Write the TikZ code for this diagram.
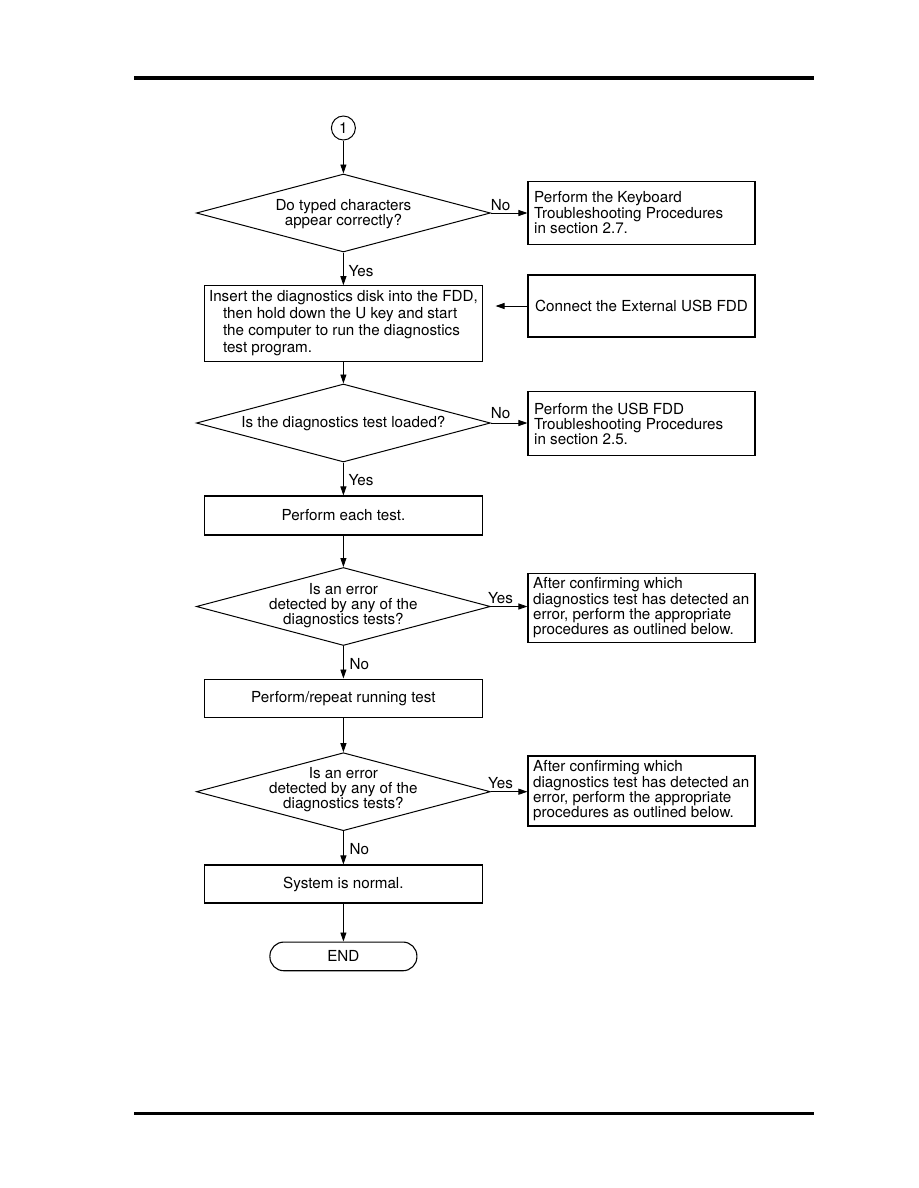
\documentclass[tikz,border=0pt]{standalone}
\usepackage{fontspec}
\setmainfont{TeX Gyre Heros}
\usetikzlibrary{arrows.meta,shapes.geometric,calc}
\begin{document}
\begin{tikzpicture}[x=1pt,y=-1pt,
  every node/.style={font=\fontsize{15.2}{15.3}\selectfont},
  pbox/.style={draw, line width=1.1pt, rectangle, inner sep=0pt, align=center},
  rbox/.style={pbox, minimum width=227pt},
  lboxs/.style={pbox, minimum width=277.7pt},
  dia/.style={draw, line width=1pt, diamond, inner sep=0pt, minimum width=294pt, minimum height=78pt},
  dtext/.style={inner sep=0pt, align=center},
  btext/.style={inner sep=0pt, align=left, anchor=west},
  lbl/.style={inner sep=0pt},
  conn/.style={line width=0.9pt, -{Triangle[length=9pt,width=6pt]}},
  rule/.style={line width=#1}
]
\useasboundingbox (0,0) rectangle (918,1188);

% page rules
\draw[rule=4pt] (134,78) -- (814,78);
\draw[rule=3pt] (134,1113.5) -- (814,1113.5);

% connector circle
\node[draw, circle, line width=1pt, minimum size=24pt, inner sep=0pt] (c1) at (343.4,128) {1};

% decision 1
\node[dia] (d1) at (343.4,213) {};
\node[dtext] (d1t) at (343.4,214) {Do typed characters\\appear correctly?};
\node[rbox, minimum height=63.3pt] (b1) at (641.5,212.7) {};
\node[btext] (b1t) at ($(b1.west)+(6.5,0)$) {Perform the Keyboard\\Troubleshooting Procedures\\in section 2.7.};

% insert disk
\node[lboxs, minimum height=75.3pt, align=left, font=\fontsize{15.2}{17}\selectfont] (b2) at (343.4,323.4)
  {Insert the diagnostics disk into the FDD,\\\hspace*{14pt}then hold down the U key and start\\\hspace*{14pt}the computer to run the diagnostics\\\hspace*{14pt}test program.};
\node[rbox, minimum height=62pt] (bc) at (641.5,306) {Connect the External USB FDD};

% decision 2
\node[dia] (d2) at (343.4,423) {};
\node[dtext] (d2t) at (343.4,424) {Is the diagnostics test loaded?};
\node[rbox, minimum height=63.3pt] (b3) at (641.5,423.4) {};
\node[btext] (b3t) at ($(b3.west)+(6.5,0.5)$) {Perform the USB FDD\\Troubleshooting Procedures\\in section 2.5.};

% each test
\node[lboxs, minimum height=39pt] (b4) at (343.4,515.5) {Perform each test.};

% decision 3
\node[dia] (d3) at (343.4,606.5) {};
\node[dtext] (d3t) at (343.4,605.5) {Is an error\\detected by any of the\\diagnostics tests?};
\node[rbox, minimum height=69.7pt] (b5) at (641.5,607.9) {};
\node[btext] (b5t) at ($(b5.west)+(5.5,0)$) {After confirming which\\diagnostics test has detected an\\error, perform the appropriate\\procedures as outlined below.};

% repeat test
\node[lboxs, minimum height=38.7pt] (b6) at (343.4,698.4) {Perform/repeat running test};

% decision 4
\node[dia] (d4) at (343.4,791.7) {};
\node[dtext] (d4t) at (343.4,789.5) {Is an error\\detected by any of the\\diagnostics tests?};
\node[rbox, minimum height=70pt] (b7) at (641.5,791) {};
\node[btext] (b7t) at ($(b7.west)+(5.5,0)$) {After confirming which\\diagnostics test has detected an\\error, perform the appropriate\\procedures as outlined below.};

% normal
\node[lboxs, minimum height=38pt] (b8) at (343.4,884) {System is normal.};

% end
\node[draw, line width=1.1pt, rectangle, rounded corners=14pt, minimum width=147pt, minimum height=28.7pt, inner sep=0pt] (end) at (343.4,956.4) {END};

% connectors
\draw[conn] (c1.south) -- (d1.north);
\draw[conn] (d1.south) -- (b2.north);
\draw[conn] (b2.south) -- (d2.north);
\draw[conn] (d2.south) -- (b4.north);
\draw[conn] (b4.south) -- (d3.north);
\draw[conn] (d3.south) -- (b6.north);
\draw[conn] (b6.south) -- (d4.north);
\draw[conn] (d4.south) -- (b8.north);
\draw[conn] (b8.south) -- (end.north);

\draw[conn] (d1.east) -- (d1.east -| b1.west);
\draw[conn] (d2.east) -- (d2.east -| b3.west);
\draw[conn] (d3.east) -- (d3.east -| b5.west);
\draw[conn] (d4.east) -- (d4.east -| b7.west);
\draw[conn, shorten >=12.7pt] (bc.west) -- (bc.west -| b2.east);

% labels
\node[lbl, anchor=base] (l1) at (500.6,210.5) {No};
\node[lbl, anchor=base west] (l2) at (348.5,276) {Yes};
\node[lbl, anchor=base] (l3) at (500.6,418.5) {No};
\node[lbl, anchor=base west] (l4) at (348.5,485.5) {Yes};
\node[lbl, anchor=base] (l5) at (500.6,603.5) {Yes};
\node[lbl, anchor=base west] (l6) at (349.5,669.5) {No};
\node[lbl, anchor=base] (l7) at (500.6,788) {Yes};
\node[lbl, anchor=base west] (l8) at (349.5,854.5) {No};
\end{tikzpicture}
\end{document}
